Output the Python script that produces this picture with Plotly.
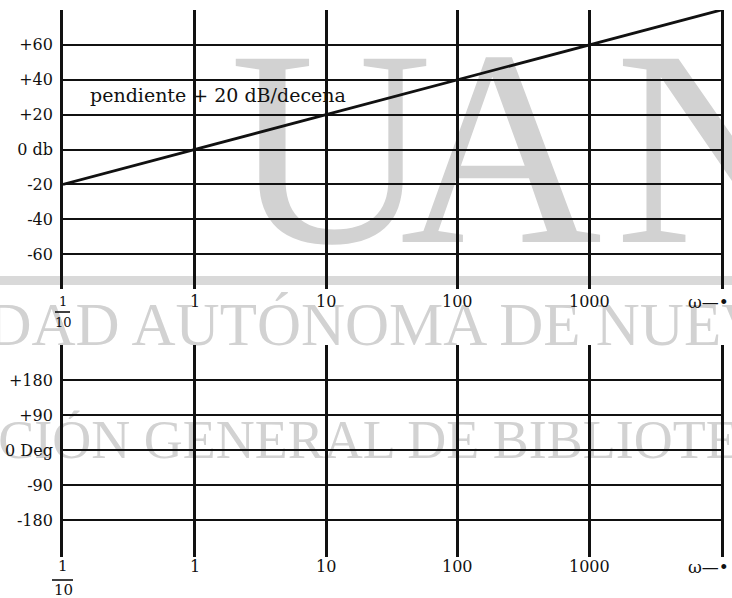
import math
import plotly.graph_objects as go

# Asymptotic Bode plot of G(jw) = jw : +20 dB per decade, crossing 0 dB at w = 1
omega = [0.1, 1, 10, 100, 1000, 10000]
magnitude_db = [-20, 0, 20, 40, 60, 80]

freq_ticks = [1, 10, 100, 1000]
freq_labels = ["1", "10", "100", "1000"]

db_ticks = [60, 40, 20, 0, -20, -40, -60]
db_labels = ["+60", "+40", "+20", "0 db", "-20", "-40", "-60"]

deg_ticks = [180, 90, 0, -90, -180]
deg_labels = ["+180", "+90", "0 Deg", "-90", "-180"]

slope_note = "pendiente + 20 dB/decena"

# library stamp printed behind the charts
stamp_letters = ["U", "A", "N"]
stamp_line1 = "UNIVERSIDAD AUTÓNOMA DE NUEVO LEÓN"
stamp_line2 = "DIRECCIÓN GENERAL DE BIBLIOTECAS"

W, H = 732, 598
INK = "#111111"
STAMP = "#d2d2d2"
SERIF = "DejaVu Serif"


def fx(p):
    return p / W


def fy(p):
    return 1 - p / H


fig = go.Figure()

# --- stamp layer (subplot xy, spans the whole page, pixel-like coordinates) ---
fig.add_trace(go.Scatter(
    x=[331, 501, 716], y=[172, 172, 172], text=stamp_letters, mode="text",
    textposition="middle center",
    textfont=dict(family="Liberation Serif", size=280, color=STAMP),
    xaxis="x", yaxis="y", hoverinfo="skip", showlegend=False,
))
fig.add_trace(go.Scatter(
    x=[345], y=[330], text=[stamp_line1], mode="text",
    textposition="middle center",
    textfont=dict(family="Liberation Serif", size=61, color=STAMP),
    xaxis="x", yaxis="y", hoverinfo="skip", showlegend=False,
))
fig.add_trace(go.Scatter(
    x=[340], y=[444], text=[stamp_line2], mode="text",
    textposition="middle center",
    textfont=dict(family="Liberation Serif", size=54, color=STAMP),
    xaxis="x", yaxis="y", hoverinfo="skip", showlegend=False,
))

# --- magnitude curve (subplot x2y2) ---
fig.add_trace(go.Scatter(
    x=omega, y=magnitude_db, mode="lines",
    line=dict(color=INK, width=2.8),
    xaxis="x2", yaxis="y2", cliponaxis=False,
    hoverinfo="skip", showlegend=False,
))

# empty phase grid (subplot x3y3)
fig.add_trace(go.Scatter(
    x=[omega[0]], y=[0], mode="markers", marker=dict(opacity=0),
    xaxis="x3", yaxis="y3", hoverinfo="skip", showlegend=False,
))

x_dom = [fx(63), fx(721)]
top_dom = [fy(289), fy(10)]
bot_dom = [fy(557), fy(345)]

freq_axis = dict(
    type="log", range=[-1, 4], domain=x_dom,
    tickvals=freq_ticks, showticklabels=False, ticks="",
    showgrid=True, gridcolor=INK, gridwidth=2.6,
    zeroline=False, showline=False, fixedrange=True,
)
level_axis = dict(
    showgrid=True, gridcolor=INK, gridwidth=2.2, zeroline=False,
    showline=True, mirror=True, linecolor=INK, linewidth=2.8,
    ticks="outside", ticklen=4, tickcolor="rgba(0,0,0,0)",
    tickfont=dict(family=SERIF, size=16, color=INK), fixedrange=True,
)

fig.update_layout(
    width=W, height=H,
    margin=dict(l=0, r=0, t=0, b=0),
    paper_bgcolor="white", plot_bgcolor="rgba(0,0,0,0)",
    hovermode=False, showlegend=False,
    xaxis=dict(domain=[0, 1], range=[0, W], visible=False, fixedrange=True),
    yaxis=dict(domain=[0, 1], range=[H, 0], visible=False, fixedrange=True),
    xaxis2=dict(freq_axis, anchor="y2"),
    yaxis2=dict(level_axis, domain=top_dom, range=[-80, 80], anchor="x2",
                tickvals=db_ticks, ticktext=db_labels),
    xaxis3=dict(freq_axis, anchor="y3"),
    yaxis3=dict(level_axis, domain=bot_dom, range=[-275, 270], anchor="x3",
                tickvals=deg_ticks, ticktext=deg_labels),
)

# light band across the page, under everything
fig.add_shape(type="rect", xref="paper", yref="paper",
              x0=0, x1=1, y0=fy(285), y1=fy(276),
              fillcolor="#d9d9d9", line_width=0, layer="below")

annotations = []
# slope note
annotations.append(dict(
    text=slope_note, xref="paper", yref="paper", x=fx(88), y=fy(95),
    xanchor="left", yanchor="middle", showarrow=False,
    font=dict(family=SERIF, size=19, color=INK),
))

# frequency labels under both charts
for row_y in (301, 566):
    for v, lab in zip(freq_ticks, freq_labels):
        annotations.append(dict(
            text=lab, xref="x2", yref="paper", x=math.log10(v),
            y=fy(row_y), xanchor="center", yanchor="middle", showarrow=False,
            font=dict(family=SERIF, size=16, color=INK),
        ))
    annotations.append(dict(
        text="ω—•", xref="paper", yref="paper", x=fx(686), y=fy(row_y + 1),
        xanchor="left", yanchor="middle", showarrow=False,
        font=dict(family=SERIF, size=17, color=INK),
    ))

# the 1/10 fraction at the left end of each frequency scale
frac_rows = [(301, 312, 322, 13, 55, 70), (566, 580, 590, 15, 52, 73)]
for num_y, bar_y, den_y, size, bx0, bx1 in frac_rows:
    annotations.append(dict(
        text="1", xref="x2", yref="paper", x=-1, y=fy(num_y),
        xanchor="center", yanchor="middle", showarrow=False,
        font=dict(family=SERIF, size=size, color=INK),
    ))
    annotations.append(dict(
        text="10", xref="x2", yref="paper", x=-1, y=fy(den_y),
        xanchor="center", yanchor="middle", showarrow=False,
        font=dict(family=SERIF, size=size, color=INK),
    ))
    fig.add_shape(type="line", xref="paper", yref="paper",
                  x0=fx(bx0), x1=fx(bx1), y0=fy(bar_y), y1=fy(bar_y),
                  line=dict(color=INK, width=1.6))

fig.update_layout(annotations=annotations)

fig.write_html("out.html", config={"displayModeBar": False})
